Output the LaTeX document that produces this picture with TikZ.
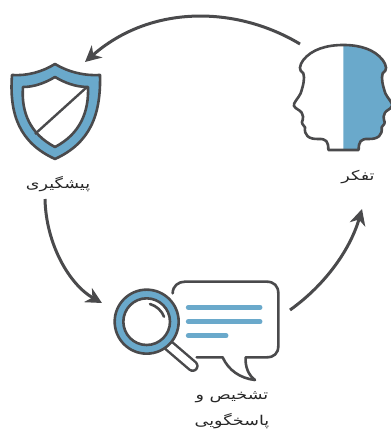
\documentclass[tikz,border=0pt]{standalone}
\usepackage{fontspec}
\usetikzlibrary{arrows.meta}
\TeXXeTstate=1
\newfontfamily\arabicfont[Script=Arabic,FakeStretch=1.3]{DejaVu Sans}
\definecolor{ink}{HTML}{4A4A4C}
\definecolor{blueic}{HTML}{6AA9CB}
\tikzset{
  x=1pt,y=-1pt,
  lbl/.style={font=\arabicfont\fontsize{13.5}{15}\selectfont,text=black!85,inner sep=0pt,align=center},
  cycle/.style={draw=ink,line width=3pt,-{Stealth[length=16pt,width=16pt,inset=5pt]}},
  icon/.style={draw=ink,line width=2.6pt,line join=round,line cap=round},
  bar/.style={draw=blueic,line width=5pt,line cap=round}
}
\begin{document}
\begin{tikzpicture}
\useasboundingbox (0,0) rectangle (390,430);
\fill[white] (0,0) rectangle (390,430);
% shield
\path[fill=blueic,draw=ink,line width=2.6pt,line join=round]
  (55,64) .. controls (68,72) and (85,76) .. (100,75)
  .. controls (101,115) and (90,143) .. (55,159)
  .. controls (20,143) and (9,115) .. (12,75)
  .. controls (27,76) and (42,72) .. (55,64) -- cycle;
\path[fill=white,draw=ink,line width=2.6pt,line join=round]
  (55,77) .. controls (65,83) and (76,87) .. (88,87)
  .. controls (89,112) and (80,134) .. (55,147)
  .. controls (30,134) and (21,112) .. (23,87)
  .. controls (34,87) and (45,83) .. (55,77) -- cycle;
\draw[ink,line width=2.4pt] (35,134) -- (87,87);
% head
\begin{scope}[shift={(280,40)},x=0.3333pt,y=-0.3333pt]
\def\headpath{(190,15) .. controls (140,15) and (95,28) .. (70,60)
 .. controls (58,78) and (55,90) .. (70,100) .. controls (75,115) and (70,135) .. (62,160)
 .. controls (55,175) and (38,190) .. (42,198) .. controls (48,208) and (60,210) .. (65,218)
 .. controls (68,228) and (72,232) .. (68,240) .. controls (62,250) and (70,255) .. (75,262)
 .. controls (72,285) and (85,298) .. (115,297) .. controls (140,296) and (145,305) .. (145,330)
 -- (236,330) .. controls (236,305) and (242,296) .. (265,297)
 .. controls (295,298) and (308,285) .. (305,262) .. controls (310,255) and (318,250) .. (312,240)
 .. controls (308,232) and (312,228) .. (315,218) .. controls (320,210) and (332,208) .. (336,198)
 .. controls (340,190) and (323,175) .. (316,160) .. controls (308,135) and (303,115) .. (308,100)
 .. controls (323,90) and (320,78) .. (308,60) .. controls (283,28) and (240,15) .. (190,15) -- cycle}
\fill[white] \headpath;
\begin{scope}
\clip (190,0) rectangle (350,340);
\fill[blueic] \headpath;
\end{scope}
\draw[ink,line width=2.6pt,line join=round] \headpath;
\end{scope}
% bubble and magnifier
\begin{scope}[shift={(100,270)},x=0.3333pt,y=-0.3333pt]
\draw[icon,fill=white] (218,70) .. controls (218,48) and (235,35) .. (255,35)
  -- (500,35) .. controls (522,35) and (535,48) .. (535,70)
  -- (535,228) .. controls (535,250) and (522,262) .. (500,262)
  -- (437,262) .. controls (435,290) and (445,315) .. (465,330)
  .. controls (420,325) and (385,300) .. (368,262)
  -- (290,262);
\draw[bar] (265,112) -- (480,112);
\draw[bar] (265,155) -- (480,155);
\draw[bar] (265,197) -- (378,197);
\draw[ink,line width=12pt,line cap=round] (208,228) -- (278,288);
\draw[white,line width=7pt,line cap=round] (208,228) -- (278,288);
\fill[blueic] (140,155) circle (95);
\draw[ink,line width=2.6pt] (140,155) circle (96);
\draw[ink,line width=2.6pt,fill=white] (140,155) circle (70);
\draw[ink,line width=2.6pt,line cap=round] (150,102) .. controls (170,108) and (185,122) .. (192,140);
\end{scope}
% labels
\node[lbl] (think) at (358,177) {\beginR تفکر\endR};
\node[lbl] (prevent) at (58,184) {\beginR پیشگیری\endR};
\node[lbl] (detect) at (232,397) {\beginR تشخیص و\endR};
\node[lbl] (respond) at (232,421) {\beginR پاسخگویی\endR};
% connector ends
\coordinate (a1) at (300,44);
\coordinate (a2) at (85,62);
\coordinate (b1) at (45,199);
\coordinate (b2) at (102,303);
\coordinate (c1) at (290,310);
\coordinate (c2) at (362,209);
\draw[cycle] (a1) .. controls (235,5) and (150,5) .. (a2);
\draw[cycle] (b1) .. controls (46,245) and (70,285) .. (b2);
\draw[cycle] (c1) .. controls (325,285) and (350,250) .. (c2);
\end{tikzpicture}
\end{document}
